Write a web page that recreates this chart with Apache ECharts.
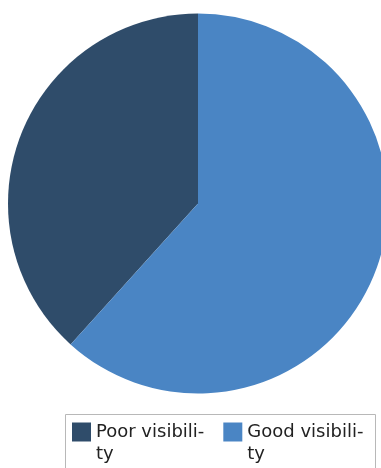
<!DOCTYPE html>
<html>
<head>
<meta charset="utf-8">
<style>
  html, body { margin: 0; padding: 0; background: #fff; }
  #chart { width: 381px; height: 468px; }
</style>
<script src="https://cdn.jsdelivr.net/npm/echarts@6/dist/echarts.min.js"></script>
</head>
<body>
<div id="chart"></div>
<script>
// shares (percent)
var categories = ["Poor visibility", "Good visibility"];
var shares = [38.3, 61.7];
// leading empty line keeps the first text line level with the swatch
var legendText = ["\nPoor visibili-\nty", "\nGood visibili-\nty"];
var colors = ["#2f4c6a", "#4a85c4"];

var chart = echarts.init(document.getElementById("chart"));

var pieData = categories.map(function (name, i) {
  return { name: name, value: shares[i], itemStyle: { color: colors[i] } };
});

chart.setOption({
  backgroundColor: "#fff",
  animation: false,
  graphic: [{
    type: "rect",
    shape: { x: 65.5, y: 414.5, width: 310, height: 80 },
    style: { fill: "#fff", stroke: "#b8b8b8", lineWidth: 1 },
    z: 0
  }],
  legend: {
    data: categories,
    left: 72,
    top: 399,
    padding: 0,
    itemWidth: 19,
    itemHeight: 19,
    itemGap: 19,
    icon: "rect",
    formatter: function (name) {
      return legendText[categories.indexOf(name)];
    },
    textStyle: {
      fontFamily: "DejaVu Sans",
      fontSize: 18,
      lineHeight: 22,
      color: "#222"
    },
    z: 5
  },
  series: [{
    type: "pie",
    center: [198, 203.5],
    radius: 190,
    startAngle: 90,
    clockwise: false,
    label: { show: false },
    labelLine: { show: false },
    emphasis: { disabled: true },
    data: pieData
  }]
});
</script>
</body>
</html>
